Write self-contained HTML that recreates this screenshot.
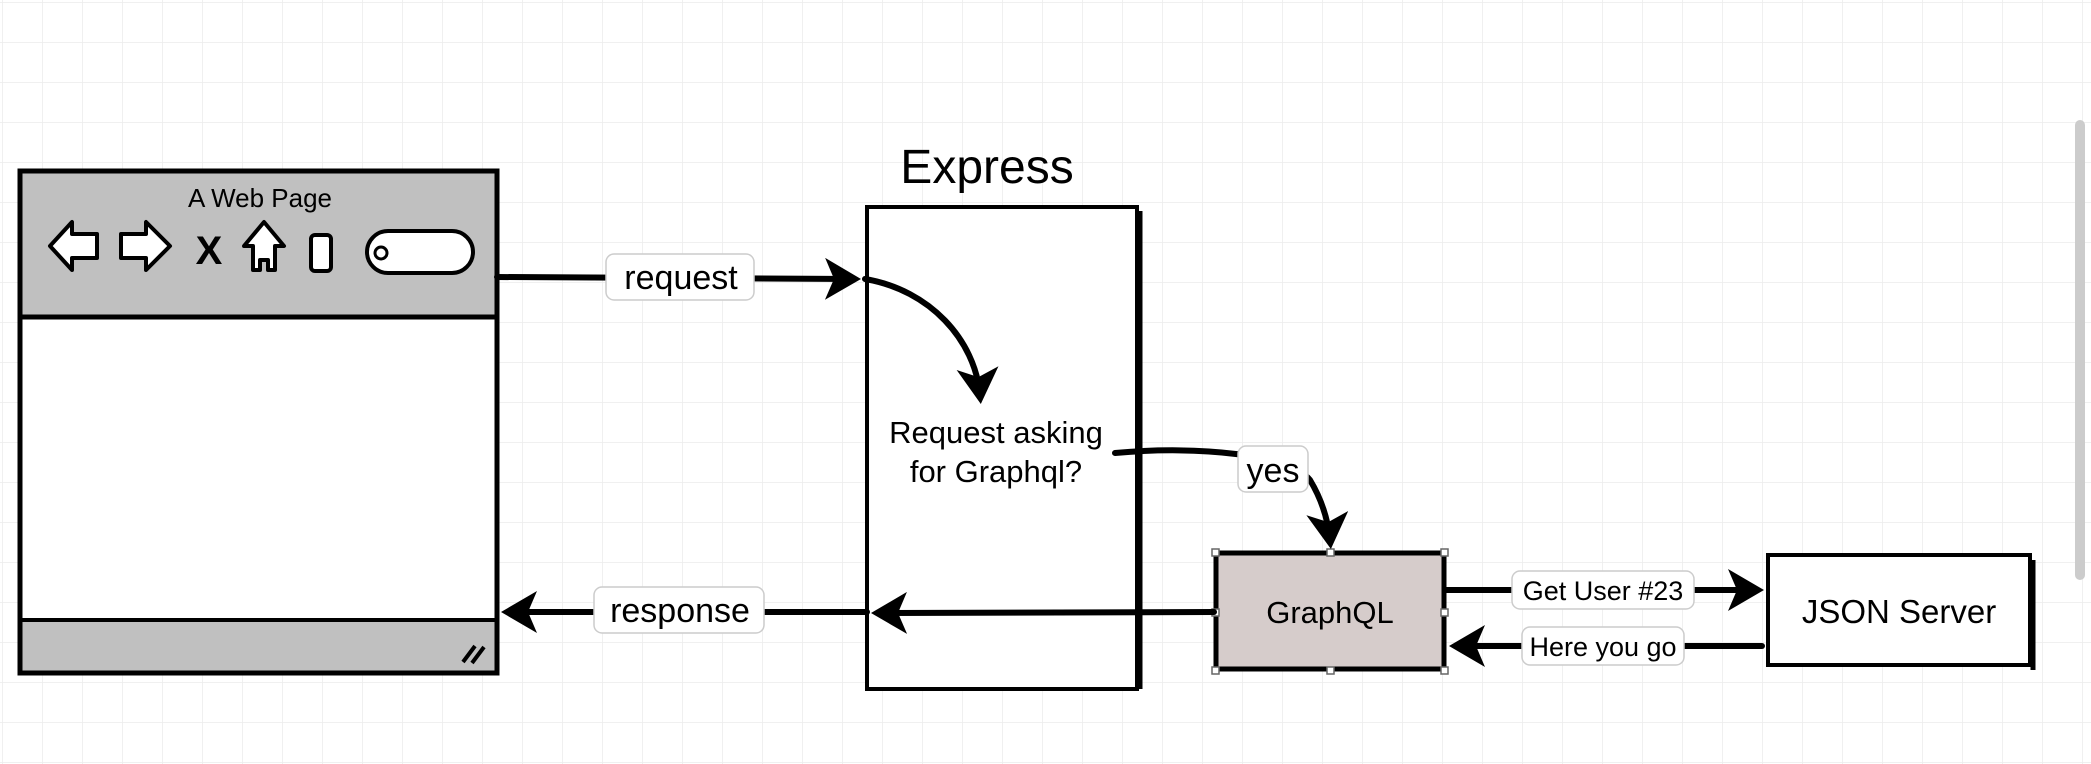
<!DOCTYPE html>
<html><head><meta charset="utf-8"><style>
html,body{margin:0;padding:0;background:#fff;}
svg{display:block;font-family:"Liberation Sans",sans-serif;}
</style></head><body>
<svg width="2091" height="764" viewBox="0 0 2091 764" xmlns="http://www.w3.org/2000/svg">
<defs>
<pattern id="g" width="40" height="40" patternUnits="userSpaceOnUse" x="3" y="3">
<path d="M40 0V40M0 40H40" stroke="#ececec" stroke-width="1.5" fill="none"/>
</pattern>
<marker id="ah" markerWidth="7" markerHeight="7" refX="4.5" refY="3.5" orient="auto" markerUnits="strokeWidth">
<path d="M0,0 L6,3.5 L0,7 L1.5,3.5 Z" fill="#000"/>
</marker>
</defs>
<rect width="2091" height="764" fill="url(#g)"/>
<rect x="2075" y="120" width="10" height="460" rx="5" fill="#ccc"/>

<!-- browser -->
<rect x="20" y="171" width="477" height="146" fill="#c0c0c0"/>
<rect x="20" y="620" width="477" height="53" fill="#c0c0c0"/>
<rect x="20" y="317" width="477" height="303" fill="#fff"/>
<rect x="20" y="171" width="477" height="502" fill="none" stroke="#000" stroke-width="5"/>
<line x1="20" y1="317" x2="497" y2="317" stroke="#000" stroke-width="5"/>
<line x1="20" y1="620" x2="497" y2="620" stroke="#000" stroke-width="4"/>
<text x="260" y="207" font-size="26" text-anchor="middle">A Web Page</text>
<g stroke="#000" stroke-width="4" fill="#fff" stroke-linejoin="round">
<path d="M50,246 L72,222 L72,234 L97,234 L97,258 L72,258 L72,270 Z"/>
<path d="M170,246 L146,222 L146,234 L121,234 L121,258 L146,258 L146,270 Z"/>
<path d="M264,222 L284,246 L275,246 L275,270 L268,270 L268,260 L260,260 L260,270 L253,270 L253,246 L244,246 Z"/>
<rect x="311" y="235" width="20" height="36" rx="4"/>
<rect x="367" y="231" width="106" height="42" rx="21"/>
<circle cx="381" cy="253" r="6" fill="none" stroke-width="3"/>
</g>
<text x="209" y="264" font-size="40" font-weight="bold" text-anchor="middle">X</text>
<g stroke="#000" stroke-width="4"><line x1="463" y1="662" x2="475" y2="646"/><line x1="472" y1="663" x2="484" y2="647"/></g>

<!-- express -->
<text x="987" y="183" font-size="48" text-anchor="middle">Express</text>
<rect x="867" y="207" width="270" height="482" fill="#fff" stroke="#000" stroke-width="4"/>
<line x1="1140" y1="211" x2="1140" y2="689" stroke="#000" stroke-width="5"/>
<text x="996" y="443" font-size="31" text-anchor="middle">Request asking</text>
<text x="996" y="482" font-size="31" text-anchor="middle">for Graphql?</text>

<!-- graphql -->
<rect x="1216" y="553" width="228" height="116" fill="#d6cccb" stroke="#000" stroke-width="5"/>
<text x="1330" y="623" font-size="31" text-anchor="middle">GraphQL</text>
<g fill="#fff" stroke="#666" stroke-width="1.5">
<rect x="1212" y="549" width="7" height="7"/><rect x="1327" y="549" width="7" height="7"/><rect x="1441" y="549" width="7" height="7"/>
<rect x="1212" y="609" width="7" height="7"/><rect x="1441" y="609" width="7" height="7"/>
<rect x="1212" y="667" width="7" height="7"/><rect x="1327" y="667" width="7" height="7"/><rect x="1441" y="667" width="7" height="7"/>
</g>

<!-- json server -->
<rect x="1768" y="555" width="262" height="110" fill="#fff" stroke="#000" stroke-width="4"/>
<line x1="2033" y1="560" x2="2033" y2="670" stroke="#000" stroke-width="5"/>
<text x="1899" y="623" font-size="33" text-anchor="middle">JSON Server</text>

<!-- connectors -->
<g stroke="#000" stroke-width="6" fill="none" stroke-linecap="round">
<path d="M497,277 L852,279" marker-end="url(#ah)"/>
<path d="M865,279 C930,290 975,340 980,395" marker-end="url(#ah)"/>
<path d="M1115,453 C1200,445 1290,455 1310,480 C1322,500 1328,520 1330,540" marker-end="url(#ah)"/>
<path d="M1214,612 L880,613" marker-end="url(#ah)"/>
<path d="M867,612 L510,612" marker-end="url(#ah)"/>
<path d="M1446,590 L1755,590" marker-end="url(#ah)"/>
<path d="M1762,646 L1458,646" marker-end="url(#ah)"/>
</g>

<!-- labels -->
<g fill="#fff" stroke="#ccc" stroke-width="1.5">
<rect x="606" y="254" width="148" height="46" rx="8"/>
<rect x="1238" y="446" width="70" height="46" rx="8"/>
<rect x="594" y="587" width="170" height="46" rx="8"/>
<rect x="1512" y="571" width="182" height="38" rx="8"/>
<rect x="1522" y="627" width="162" height="38" rx="8"/>
</g>
<g font-size="34" text-anchor="middle">
<text x="681" y="289">request</text>
<text x="1273" y="482">yes</text>
<text x="680" y="622">response</text>
</g>
<g font-size="27" text-anchor="middle">
<text x="1603" y="600">Get User #23</text>
<text x="1603" y="656">Here you go</text>
</g>
</svg>
</body></html>
